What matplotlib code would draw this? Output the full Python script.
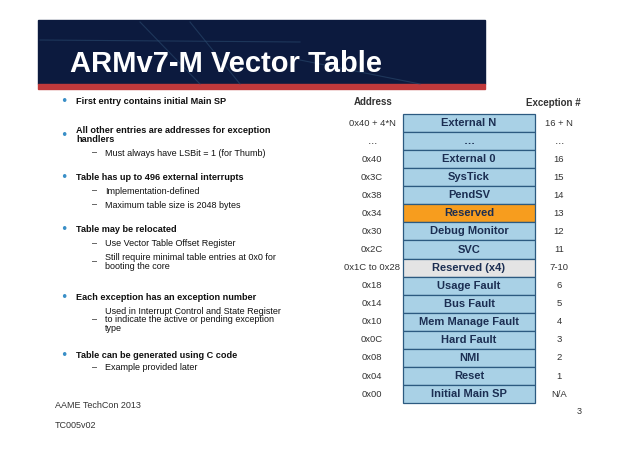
import matplotlib
matplotlib.use("Agg")
import matplotlib.pyplot as plt
from matplotlib.patches import Rectangle

title = "ARMv7-M Vector Table"
names = ["External N", "…", "External 0", "SysTick", "PendSV", "Reserved", "Debug Monitor",
         "SVC", "Reserved (x4)", "Usage Fault", "Bus Fault", "Mem Manage Fault", "Hard Fault",
         "NMI", "Reset", "Initial Main SP"]
addresses = ["0x40 + 4*N", "…", "0x40", "0x3C", "0x38", "0x34", "0x30", "0x2C", "0x1C to 0x28",
             "0x18", "0x14", "0x10", "0x0C", "0x08", "0x04", "0x00"]
exceptions = ["16 + N", "…", "16", "15", "14", "13", "12", "11", "7-10", "6", "5", "4", "3", "2", "1", "N/A"]
bullets = [
    ("b", "First entry contains initial Main SP", 102),
    ("b", "All other entries are addresses for exception\nhandlers", 135),
    ("s", "Must always have LSBit = 1 (for Thumb)", 153),
    ("b", "Table has up to 496 external interrupts", 178),
    ("s", "Implementation-defined", 191),
    ("s", "Maximum table size is 2048 bytes", 205),
    ("b", "Table may be relocated", 230),
    ("s", "Use Vector Table Offset Register", 244),
    ("s", "Still require minimal table entries at 0x0 for\nbooting the core", 262),
    ("b", "Each exception has an exception number", 297),
    ("s", "Used in Interrupt Control and State Register\nto indicate the active or pending exception\ntype", 320),
    ("b", "Table can be generated using C code", 355),
    ("s", "Example provided later", 368),
]

fig = plt.figure(figsize=(6.38, 4.51), dpi=100)
ax = fig.add_axes([0, 0, 1, 1])
ax.set_xlim(0, 638); ax.set_ylim(451, 0); ax.axis("off")

ax.add_patch(Rectangle((38, 20), 447, 64, color="#0c1a3e"))
for x0, y0, x1, y1 in [(140, 22, 200, 84), (190, 22, 240, 84), (40, 40, 300, 42), (300, 60, 420, 84)]:
    ax.plot([x0, x1], [y0, y1], color="#2a4a6e", lw=0.8, alpha=0.6)
ax.add_patch(Rectangle((38, 84), 447, 5, color="#c0393b"))
ax.text(70, 72, title, color="white", fontsize=21, fontweight="bold", va="baseline",
        family="Liberation Sans")

for kind, txt, y in bullets:
    if kind == "b":
        ax.text(64, y, "•", color="#3a8fc7", fontsize=9, va="center", ha="center")
        ax.text(76, y, txt, fontsize=6.6, fontweight="bold", va="center", color="#111",
                family="Liberation Sans", linespacing=0.95)
    else:
        ax.text(92, y, "–", fontsize=6.5, va="center", color="#111", family="Liberation Sans")
        ax.text(105, y, txt, fontsize=6.5, va="center", color="#111",
                family="Liberation Sans", linespacing=0.95)

top, h, x0, w = 114, 18.07, 403, 132
ax.text(373, 102, "Address", fontsize=7, fontweight="bold", ha="center", va="center",
        color="#333", family="Liberation Sans")
ax.text(553, 103, "Exception #", fontsize=7, fontweight="bold", ha="center", va="center",
        color="#333", family="Liberation Sans")
for i, (n, a, e) in enumerate(zip(names, addresses, exceptions)):
    y = top + i * h
    fc = "#f79d1e" if n == "Reserved" else ("#e4e4e4" if n == "Reserved (x4)" else "#a9d1e6")
    ax.add_patch(Rectangle((x0, y), w, h, facecolor=fc, edgecolor="#2c5a80", lw=0.9))
    ax.text(x0 + w / 2, y + h / 2, n, fontsize=8, fontweight="bold", ha="center", va="center",
            color="#1b2e52", family="Liberation Sans")
    ax.text(372, y + h / 2, a, fontsize=6.8, ha="center", va="center", color="#333",
            family="Liberation Sans")
    ax.text(559, y + h / 2, e, fontsize=6.8, ha="center", va="center", color="#333",
            family="Liberation Sans")

ax.text(55, 406, "AAME TechCon 2013", fontsize=6.5, va="center", color="#333", family="Liberation Sans")
ax.text(55, 426, "TC005v02", fontsize=6.5, va="center", color="#333", family="Liberation Sans")
ax.text(582, 411, "3", fontsize=6.5, va="center", ha="right", color="#333", family="Liberation Sans")

fig.savefig("out.png", dpi=100)
